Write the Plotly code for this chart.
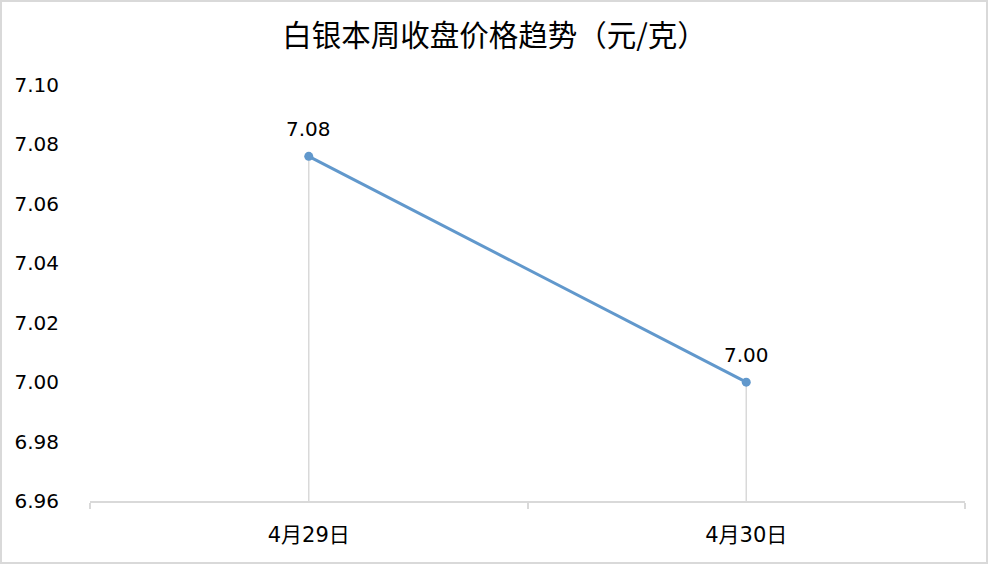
import plotly.graph_objects as go

categories = ["4月29日", "4月30日"]
prices = [7.076, 7.00]
price_labels = ["7.08", "7.00"]
y_min, y_max, y_step = 6.96, 7.10, 0.02

FONT = "DejaVu Sans, Noto Sans CJK SC"
CJK = "Noto Sans CJK SC"
W, H = 989, 565
L, R, T, B = 90, 24, 85, 64
pw, ph = W - L - R, H - T - B

fig = go.Figure()

# drop lines from each point to the category axis
dx, dy = [], []
for c, v in zip(categories, prices):
    dx += [c, c, None]
    dy += [y_min, v, None]
fig.add_trace(go.Scatter(x=dx, y=dy, mode="lines",
                         line=dict(color="#d9d9d9", width=1.5),
                         hoverinfo="skip", showlegend=False))

fig.add_trace(go.Scatter(
    x=categories, y=prices, mode="lines+markers",
    line=dict(color="#6198cc", width=3),
    marker=dict(color="#6198cc", size=9),
    showlegend=False))

for c, v, t in zip(categories, prices, price_labels):
    fig.add_annotation(x=c, y=v, text=t, showarrow=False, yshift=27,
                       font=dict(family=FONT, size=20, color="#000000"))

# outer chart border
fig.add_shape(type="rect", xref="paper", yref="paper",
              x0=(1 - L) / pw, x1=(W - 2 - L) / pw,
              y0=(T + ph - (H - 2)) / ph, y1=(T + ph - 1) / ph,
              line=dict(color="#d9d9d9", width=2), layer="below")

fig.update_layout(
    width=W, height=H,
    margin=dict(l=L, r=R, t=T, b=B),
    paper_bgcolor="white", plot_bgcolor="white",
    font=dict(family=FONT, size=20, color="#000000"),
    title=dict(text="白银本周收盘价格趋势（元/克）", x=0.5, xanchor="center",
               y=1 - 36 / H, yanchor="middle", yref="container",
               font=dict(family=CJK, size=29.5, color="#000000")),
)
fig.update_xaxes(type="category", range=[-0.5, 1.5],
                 showline=True, linecolor="#d9d9d9", linewidth=1.5,
                 ticks="outside", tickson="boundaries", ticklen=6,
                 tickcolor="#d9d9d9", tickwidth=1.5,
                 showgrid=False, zeroline=False,
                 tickfont=dict(family=FONT, size=21, color="#000000"),
                 ticklabelstandoff=14)
fig.update_yaxes(range=[y_min, y_max], tick0=y_min, dtick=y_step,
                 tickformat=".2f", showgrid=False, zeroline=False,
                 showline=False, ticks="",
                 tickfont=dict(family=FONT, size=20, color="#000000"),
                 ticklabelstandoff=30)

fig.write_html("out.html", config={"displayModeBar": False},
               post_script="document.body.style.margin='0';document.body.style.overflow='hidden';")
